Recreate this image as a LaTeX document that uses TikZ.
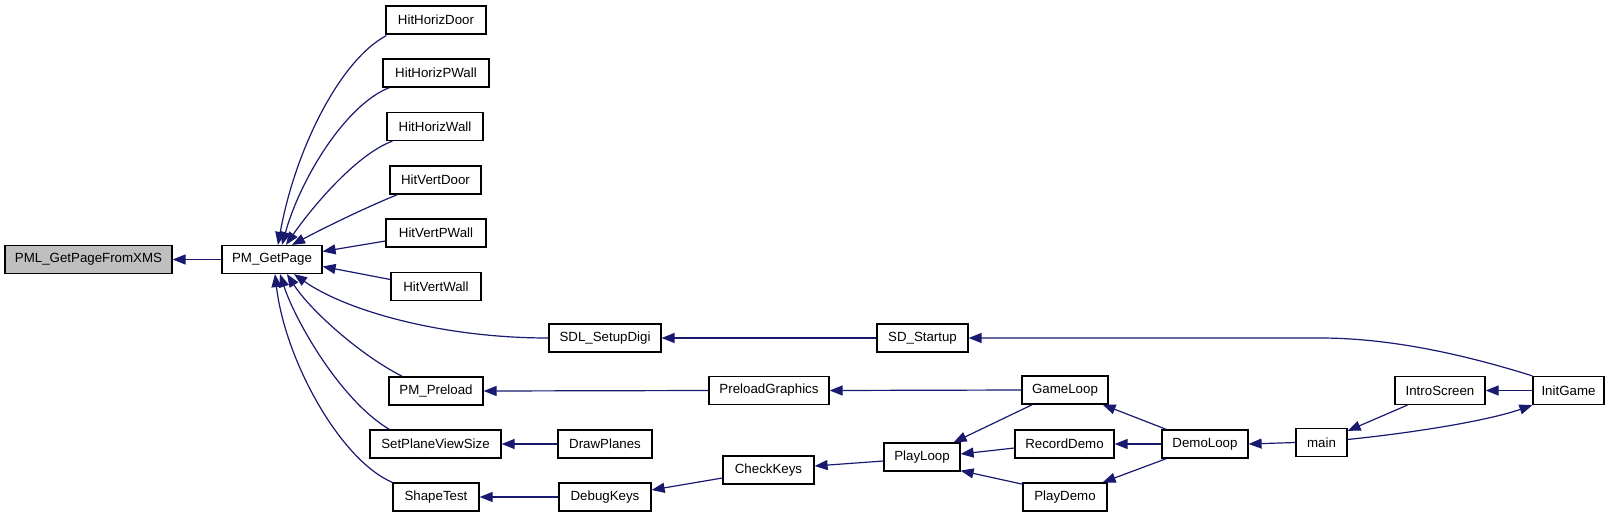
\documentclass[tikz,border=0pt]{standalone}
\usepackage{fontspec}
\setmainfont{Liberation Sans}
\usetikzlibrary{arrows.meta}
\definecolor{edgeblue}{HTML}{191970}
\definecolor{hlgray}{HTML}{BFBFBF}
\tikzset{
  fn/.style={draw=black, line width=1.2pt, fill=white, minimum height=28pt,
    inner sep=0pt, font=\fontsize{13.3}{15}\selectfont},
  cur/.style={fn, fill=hlgray},
  edge/.style={draw=edgeblue, line width=1.2pt,
    -{Triangle[length=13pt,width=10pt,fill=edgeblue]}},
}
\begin{document}
\begin{tikzpicture}[x=1pt,y=-1pt]
\useasboundingbox[fill=white] (0,0) rectangle (1613,517);
% nodes
\node[cur, minimum width=167pt] (pml) at (88.5,259.5) {PML\_GetPageFromXMS};
\node[fn, minimum width=100pt] (gp) at (272,259.5) {PM\_GetPage};
\node[fn, minimum width=100pt] (hhd) at (436,20) {HitHorizDoor};
\node[fn, minimum width=106pt] (hhp) at (436,73) {HitHorizPWall};
\node[fn, minimum width=96pt] (hhw) at (435,126.5) {HitHorizWall};
\node[fn, minimum width=91pt] (hvd) at (435.5,180) {HitVertDoor};
\node[fn, minimum width=100pt] (hvp) at (436,233) {HitVertPWall};
\node[fn, minimum width=90pt] (hvw) at (436,286.5) {HitVertWall};
\node[fn, minimum width=112pt] (sdl) at (605,338) {SDL\_SetupDigi};
\node[fn, minimum width=94pt] (pre) at (436,391) {PM\_Preload};
\node[fn, minimum width=131pt] (spv) at (435.5,444) {SetPlaneViewSize};
\node[fn, minimum width=86pt] (shp) at (436,497) {ShapeTest};
\node[fn, minimum width=94pt] (drp) at (605,444) {DrawPlanes};
\node[fn, minimum width=92pt] (dbk) at (605,497) {DebugKeys};
\node[fn, minimum width=91pt] (sds) at (922.5,338) {SD\_Startup};
\node[fn, minimum width=120pt] (plg) at (769,390.5) {PreloadGraphics};
\node[fn, minimum width=91pt] (chk) at (768.5,470) {CheckKeys};
\node[fn, minimum width=76pt] (ply) at (922,457) {PlayLoop};
\node[fn, minimum width=86pt] (gml) at (1065,390) {GameLoop};
\node[fn, minimum width=99pt] (rcd) at (1064.5,444) {RecordDemo};
\node[fn, minimum width=84pt] (pld) at (1065,497) {PlayDemo};
\node[fn, minimum width=86pt] (dml) at (1205,444) {DemoLoop};
\node[fn, minimum width=51pt] (mn) at (1321.5,442.5) {main};
\node[fn, minimum width=90pt] (its) at (1440,390.5) {IntroScreen};
\node[fn, minimum width=71pt] (ing) at (1568.5,390.5) {InitGame};
% edges
\draw[edge] (gp.west) -- (pml.east);
\draw[edge] ([xshift=1pt,yshift=-1pt]hhd.south west) .. controls (340,60) and (295,150) .. ([xshift=6pt]gp.north);
\draw[edge] ([xshift=7pt]hhp.south west) .. controls (345,105) and (300,180) .. ([xshift=10pt]gp.north);
\draw[edge] ([xshift=6pt]hhw.south west) .. controls (355,155) and (310,210) .. ([xshift=14pt]gp.north);
\draw[edge] ([xshift=8pt]hvd.south west) .. controls (360,210) and (320,230) .. ([xshift=20pt]gp.north);
\draw[edge] ([yshift=-8pt]hvp.west) -- ([yshift=8pt]gp.east);
\draw[edge] ([yshift=7pt]hvw.west) -- ([yshift=-7pt]gp.east);
\draw[edge] (sdl.west) .. controls (440,338) and (345,310) .. ([xshift=22pt]gp.south);
\draw[edge] ([xshift=14pt]pre.north west) .. controls (360,355) and (310,310) .. ([xshift=15pt]gp.south);
\draw[edge] ([xshift=20pt]spv.north west) .. controls (340,400) and (295,320) .. ([xshift=8pt]gp.south);
\draw[edge] (shp.north west) .. controls (340,460) and (285,360) .. ([xshift=3pt]gp.south);
\draw[edge] (sds.west) -- (sdl.east);
\draw[edge] (ing.north west) .. controls (1450,350) and (1380,338) .. (1320,338) -- (sds.east);
\draw[edge] (plg.west) -- (pre.east);
\draw[edge] (gml.west) -- (plg.east);
\draw[edge] (drp.west) -- (spv.east);
\draw[edge] (dbk.west) -- (shp.east);
\draw[edge] ([yshift=-8pt]chk.west) -- ([yshift=7pt]dbk.east);
\draw[edge] ([yshift=-4pt]ply.west) -- ([yshift=4pt]chk.east);
\draw[edge] ([xshift=11pt]gml.south west) -- ([xshift=-7pt]ply.north east);
\draw[edge] ([yshift=-4pt]rcd.west) -- ([yshift=3pt]ply.east);
\draw[edge] ([xshift=1pt,yshift=-2pt]pld.north west) -- ([yshift=1pt]ply.south east);
\draw[edge] ([xshift=5pt]dml.north west) -- ([xshift=-6pt]gml.south east);
\draw[edge] (dml.west) -- (rcd.east);
\draw[edge] ([xshift=5pt]dml.south west) -- ([xshift=-5pt]pld.north east);
\draw[edge] (mn.west) -- (dml.east);
\draw[edge] ([xshift=13pt]its.south west) -- ([yshift=-3pt]mn.north east);
\draw[edge] ([yshift=3pt]mn.east) .. controls (1420,432) and (1490,420) .. (ing.south west);
\draw[edge] (ing.west) -- (its.east);
\end{tikzpicture}
\end{document}
